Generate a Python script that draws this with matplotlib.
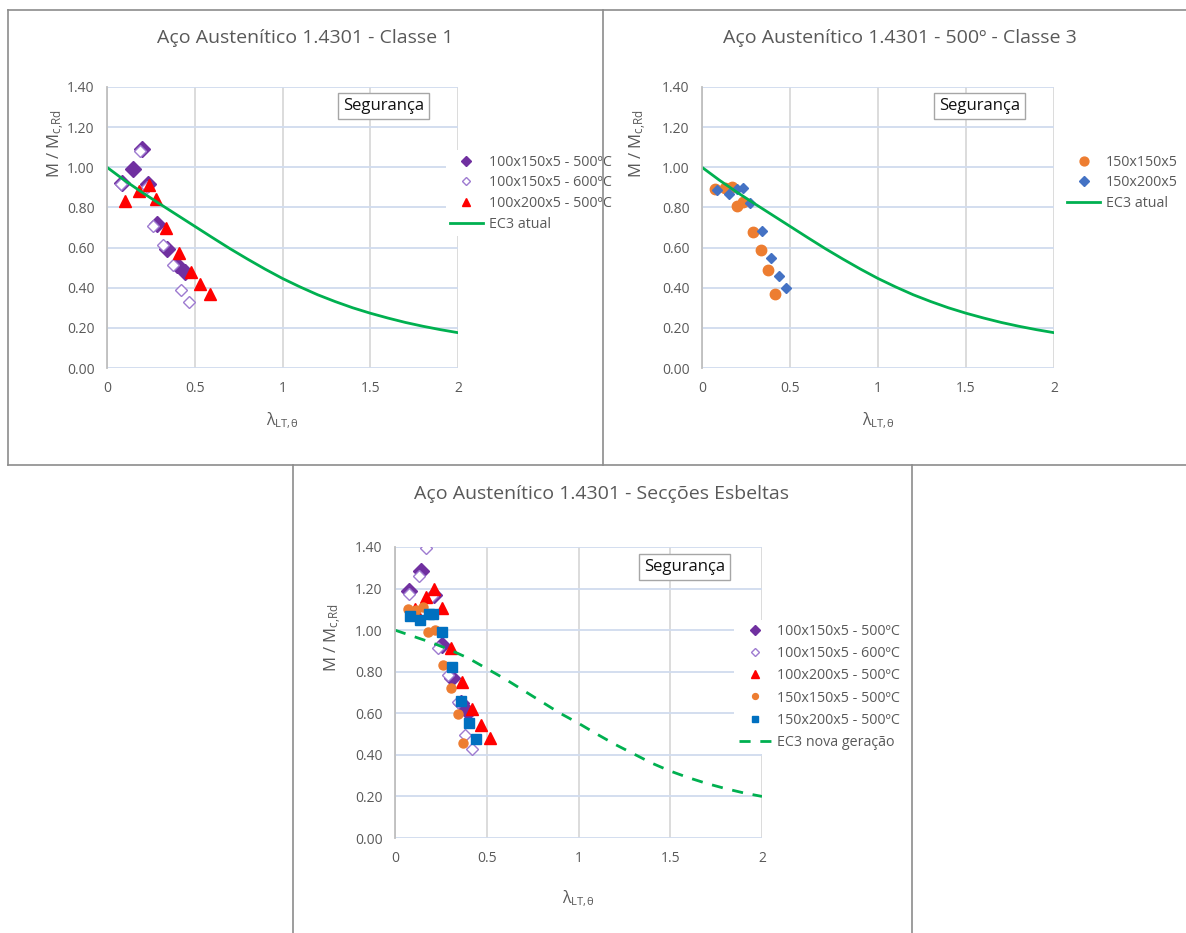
import numpy as np
import matplotlib.pyplot as plt
from matplotlib.lines import Line2D

plt.rcParams['font.family'] = ['Open Sans', 'DejaVu Sans']
plt.rcParams['mathtext.default'] = 'regular'

# curvas EC3
lam = [0.0, 0.1, 0.2, 0.3, 0.4, 0.5, 0.6, 0.7, 0.8, 0.9, 1.0,
       1.1, 1.2, 1.3, 1.4, 1.5, 1.6, 1.7, 1.8, 1.9, 2.0]
ec3_atual = [1.00, 0.935, 0.875, 0.818, 0.762, 0.706, 0.650, 0.595, 0.543, 0.493, 0.446,
             0.404, 0.365, 0.331, 0.300, 0.273, 0.249, 0.227, 0.208, 0.191, 0.176]
ec3_nova = [1.00, 0.97, 0.94, 0.905, 0.865, 0.815, 0.765, 0.71, 0.655, 0.60, 0.552,
            0.50, 0.45, 0.405, 0.36, 0.322, 0.29, 0.262, 0.238, 0.217, 0.20]

# Classe 1
c1_500_x = [0.087, 0.150, 0.198, 0.234, 0.283, 0.344, 0.397, 0.446]
c1_500_y = [0.923, 0.990, 1.091, 0.915, 0.719, 0.594, 0.511, 0.477]
c1_600_x = [0.078, 0.186, 0.226, 0.260, 0.321, 0.378, 0.424, 0.467]
c1_600_y = [0.915, 1.083, 0.903, 0.709, 0.611, 0.511, 0.390, 0.329]
c1_200_x = [0.104, 0.182, 0.237, 0.279, 0.336, 0.408, 0.477, 0.532, 0.585]
c1_200_y = [0.834, 0.884, 0.910, 0.842, 0.696, 0.575, 0.477, 0.417, 0.367]

# Classe 3
c3_150_x = [0.076, 0.131, 0.170, 0.201, 0.235, 0.292, 0.333, 0.375, 0.415]
c3_150_y = [0.892, 0.895, 0.903, 0.807, 0.825, 0.676, 0.586, 0.487, 0.367]
c3_200_x = [0.087, 0.153, 0.197, 0.231, 0.275, 0.341, 0.390, 0.438, 0.479]
c3_200_y = [0.887, 0.868, 0.892, 0.895, 0.824, 0.681, 0.550, 0.458, 0.399]

# Secções esbeltas
se_a_x = [0.076, 0.140, 0.214, 0.254, 0.308, 0.357, 0.399]
se_a_y = [1.190, 1.283, 1.170, 0.928, 0.771, 0.648, 0.608]
se_b_x = [0.076, 0.130, 0.168, 0.203, 0.235, 0.290, 0.344, 0.380, 0.417]
se_b_y = [1.172, 1.262, 1.396, 1.164, 0.912, 0.784, 0.656, 0.495, 0.427]
se_c_x = [0.110, 0.167, 0.212, 0.254, 0.303, 0.366, 0.422, 0.471, 0.516]
se_c_y = [1.100, 1.161, 1.196, 1.105, 0.912, 0.752, 0.619, 0.544, 0.483]
se_d_x = [0.069, 0.112, 0.152, 0.181, 0.217, 0.263, 0.303, 0.341, 0.371]
se_d_y = [1.100, 1.097, 1.113, 0.989, 1.000, 0.832, 0.720, 0.596, 0.455]
se_e_x = [0.082, 0.138, 0.185, 0.208, 0.257, 0.313, 0.359, 0.404, 0.444]
se_e_y = [1.068, 1.049, 1.077, 1.077, 0.992, 0.821, 0.660, 0.552, 0.476]

W, H = 1186, 933
fig = plt.figure(figsize=(W / 100, H / 100), dpi=100)
grey = '#595959'


def px_axes(x0, y0, x1, y1):
    return fig.add_axes([x0 / W, 1 - y1 / H, (x1 - x0) / W, (y1 - y0) / H])


def style(ax, ylab_x, ylab_y, xpad):
    ax.set_xlim(0, 2)
    ax.set_ylim(0, 1.4)
    ax.set_xticks([0, 0.5, 1, 1.5, 2])
    ax.set_xticklabels(['0', '0.5', '1', '1.5', '2'])
    yt = np.arange(0, 1.41, 0.2)
    ax.set_yticks(yt)
    ax.set_yticklabels([f'{v:.2f}' for v in yt])
    ax.grid(axis='y', color='#D0DBEE', lw=1.3)
    ax.grid(axis='x', color='#D9D9D9', lw=1.3)
    ax.set_axisbelow(True)
    for s in ['top', 'right', 'bottom']:
        ax.spines[s].set_visible(False)
    ax.spines['left'].set_color('#BFBFBF')
    ax.spines['left'].set_linewidth(1.3)
    ax.tick_params(length=0, labelcolor=grey, labelsize=10)
    ax.tick_params(axis='y', pad=9)
    ax.tick_params(axis='x', pad=9)
    ax.set_ylabel('M / M$_{c,\\!Rd}$', color=grey, fontsize=12)
    ax.yaxis.set_label_coords(ylab_x, ylab_y)
    ax.set_xlabel('λ$_{LT,\\!θ}$', color=grey, fontsize=11.5, labelpad=xpad)
    ax.text(0.788, 0.931, 'Segurança', transform=ax.transAxes, fontsize=12,
            ha='center', va='center', color='#111111',
            bbox=dict(boxstyle='square,pad=0.3', fc='white', ec='#A6A6A6', lw=1))


def legend(ax, bx, by, ms, sp):
    ax.legend(loc='upper left', bbox_to_anchor=(bx, by), frameon=True, facecolor='white',
              edgecolor='none', framealpha=1, fontsize=10.3, labelcolor=grey, markerscale=ms,
              handlelength=2.3, handletextpad=0.4, labelspacing=sp, borderaxespad=0,
              borderpad=0.3)


# caixas dos gráficos
for (xa, ya, xb, yb) in [(8, 10, 1186, 10), (8, 10, 8, 465), (603, 10, 603, 465),
                         (8, 465, 1186, 465), (293, 465, 293, 933), (912, 465, 912, 933)]:
    fig.add_artist(Line2D([xa / W, xb / W], [1 - ya / H, 1 - yb / H], color='#8C8C8C', lw=1.2))

# Classe 1
ax1 = px_axes(107, 87, 458, 368)
style(ax1, -0.115, 0.80, 11)
ax1.plot(c1_500_x, c1_500_y, 'D', color='#7030A0', ms=8, label='100x150x5 - 500ºC')
ax1.plot(c1_600_x, c1_600_y, 'D', mfc='white', mec='#9E7BD0', mew=1, ms=6, label='100x150x5 - 600ºC')
ax1.plot(c1_200_x, c1_200_y, '^', color='#FF0000', ms=8, label='100x200x5 - 500ºC')
ax1.plot(lam, ec3_atual, color='#00B050', lw=2, label='EC3 atual')
fig.text(305 / W, 1 - 38 / H, 'Aço Austenítico 1.4301 - Classe 1', ha='center', va='center',
         fontsize=14, color=grey)
legend(ax1, 0.965, 0.775, 0.65, 0.4)

# Classe 3
ax2 = px_axes(702, 87, 1054, 368)
style(ax2, -0.15, 0.80, 11)
ax2.plot(c3_150_x, c3_150_y, 'o', color='#ED7D31', ms=7.5, label='150x150x5')
ax2.plot(c3_200_x, c3_200_y, 'D', color='#4472C4', ms=5.5, label='150x200x5')
ax2.plot(lam, ec3_atual, color='#00B050', lw=2, label='EC3 atual')
fig.text(900 / W, 1 - 38 / H, 'Aço Austenítico 1.4301 - 500º - Classe 3', ha='center', va='center',
         fontsize=14, color=grey)
legend(ax2, 1.025, 0.775, 0.85, 0.4)

# Secções esbeltas
ax3 = px_axes(395, 547, 762, 838)
style(ax3, -0.14, 0.69, 17)
ax3.plot(se_a_x, se_a_y, 'D', color='#7030A0', ms=8, label='100x150x5 - 500ºC')
ax3.plot(se_b_x, se_b_y, 'D', mfc='white', mec='#9E7BD0', mew=1, ms=6, label='100x150x5 - 600ºC')
ax3.plot(se_c_x, se_c_y, '^', color='#FF0000', ms=8, label='100x200x5 - 500ºC')
ax3.plot(se_d_x, se_d_y, 'o', color='#ED7D31', ms=6.5, label='150x150x5 - 500ºC')
ax3.plot(se_e_x, se_e_y, 's', color='#0070C0', ms=6.5, label='150x200x5 - 500ºC')
ax3.plot(lam, ec3_nova, color='#00B050', lw=2, ls=(0, (4, 3.5)), label='EC3 nova geração')
fig.text(602 / W, 1 - 494 / H, 'Aço Austenítico 1.4301 - Secções Esbeltas', ha='center', va='center',
         fontsize=14, color=grey)
legend(ax3, 0.925, 0.75, 0.65, 0.5)

fig.savefig('out.png', dpi=100)
